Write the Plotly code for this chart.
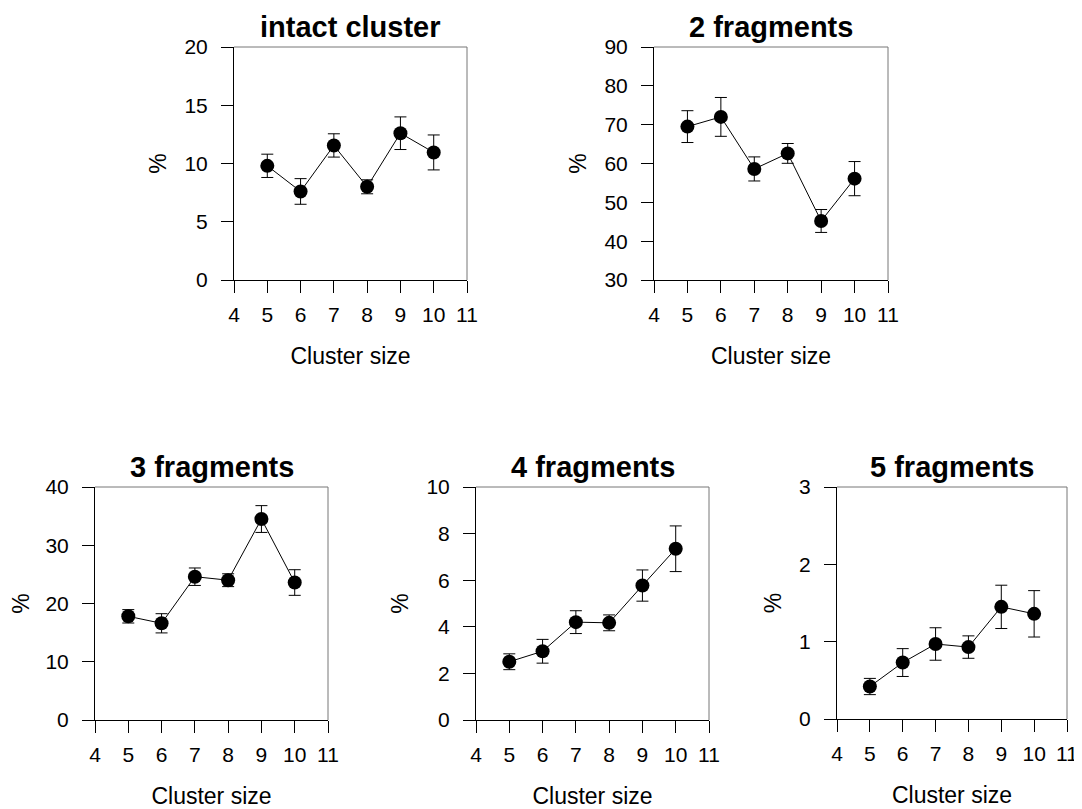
import plotly.graph_objects as go

# cluster sizes
sizes = [5, 6, 7, 8, 9, 10]
x_ticks = [4, 5, 6, 7, 8, 9, 10, 11]

titles = ['intact cluster', '2 fragments', '3 fragments', '4 fragments', '5 fragments']

intact = [9.8, 7.6, 11.55, 8.0, 12.6, 10.95]
intact_err = [1.0, 1.1, 1.0, 0.6, 1.4, 1.5]

frag2 = [69.5, 72.0, 58.6, 62.6, 45.2, 56.1]
frag2_err = [4.1, 5.0, 3.1, 2.55, 2.95, 4.4]

frag3 = [17.8, 16.6, 24.6, 24.0, 34.5, 23.6]
frag3_err = [1.15, 1.65, 1.5, 1.1, 2.3, 2.2]

frag4 = [2.5, 2.95, 4.2, 4.17, 5.77, 7.35]
frag4_err = [0.34, 0.51, 0.49, 0.34, 0.67, 0.98]

frag5 = [0.42, 0.73, 0.97, 0.93, 1.45, 1.36]
frag5_err = [0.105, 0.18, 0.21, 0.145, 0.28, 0.30]

y_ranges = [[0, 20], [30, 90], [0, 40], [0, 10], [0, 3]]
y_dticks = [5, 10, 10, 2, 1]

series = [(intact, intact_err), (frag2, frag2_err), (frag3, frag3_err),
          (frag4, frag4_err), (frag5, frag5_err)]

W, H = 1082, 809
OFF = 8  # page body margin
# plot boxes in window pixels: left, right, top, bottom
boxes = [(234, 467, 47, 280), (654, 888, 47, 280),
         (95, 328, 487, 720), (476, 709, 487, 720), (837, 1067, 487, 719)]

FONT = 'Liberation Sans, Arial, sans-serif'

fig = go.Figure()
layout = dict(width=W, height=H, margin=dict(l=0, r=0, t=0, b=0, autoexpand=False),
              paper_bgcolor='white', plot_bgcolor='white', showlegend=False,
              font=dict(family=FONT, color='black', size=21))
shapes = []
annotations = []

for i, ((vals, errs), box) in enumerate(zip(series, boxes)):
    n = '' if i == 0 else str(i + 1)
    fig.add_trace(go.Scatter(
        x=sizes, y=vals, mode='lines+markers',
        line=dict(color='black', width=1),
        marker=dict(color='black', size=14),
        error_y=dict(type='data', array=errs, color='black', thickness=1, width=6),
        xaxis='x' + n, yaxis='y' + n))
    l, r, t, b = [v - OFF for v in box]
    layout['xaxis' + n] = dict(
        domain=[l / W, r / W], range=[4, 11], tickvals=x_ticks,
        showline=True, linecolor='black', linewidth=1, mirror=False,
        ticks='outside', ticklen=12, tickcolor='black', showgrid=False, zeroline=False,
        tickfont=dict(size=21), ticklabelstandoff=4, automargin=False,
        anchor='y' + n, title=dict(text='Cluster size', standoff=22, font=dict(size=23)))
    layout['yaxis' + n] = dict(
        domain=[1 - b / H, 1 - t / H], range=y_ranges[i], dtick=y_dticks[i],
        showline=True, linecolor='black', linewidth=1, mirror=False,
        ticks='outside', ticklen=12, tickcolor='black', showgrid=False, zeroline=False,
        tickfont=dict(size=21), ticklabelstandoff=9, automargin=False,
        anchor='x' + n, title=dict(text='%', standoff=11, font=dict(size=23)))
    # grey top and right frame
    shapes.append(dict(type='line', xref='x' + n + ' domain', yref='y' + n + ' domain',
                       x0=0, x1=1, y0=1, y1=1, line=dict(color='#777777', width=1)))
    shapes.append(dict(type='line', xref='x' + n + ' domain', yref='y' + n + ' domain',
                       x0=1, x1=1, y0=0, y1=1, line=dict(color='#777777', width=1)))
    annotations.append(dict(text='<b>' + titles[i] + '</b>', showarrow=False,
                            xref='x' + n + ' domain', yref='y' + n + ' domain',
                            x=0.5, y=1, xanchor='center', yanchor='bottom', yshift=3,
                            borderpad=0, font=dict(size=29, family=FONT)))

layout['shapes'] = shapes
layout['annotations'] = annotations
fig.update_layout(**layout)

fig.write_html('out.html')
